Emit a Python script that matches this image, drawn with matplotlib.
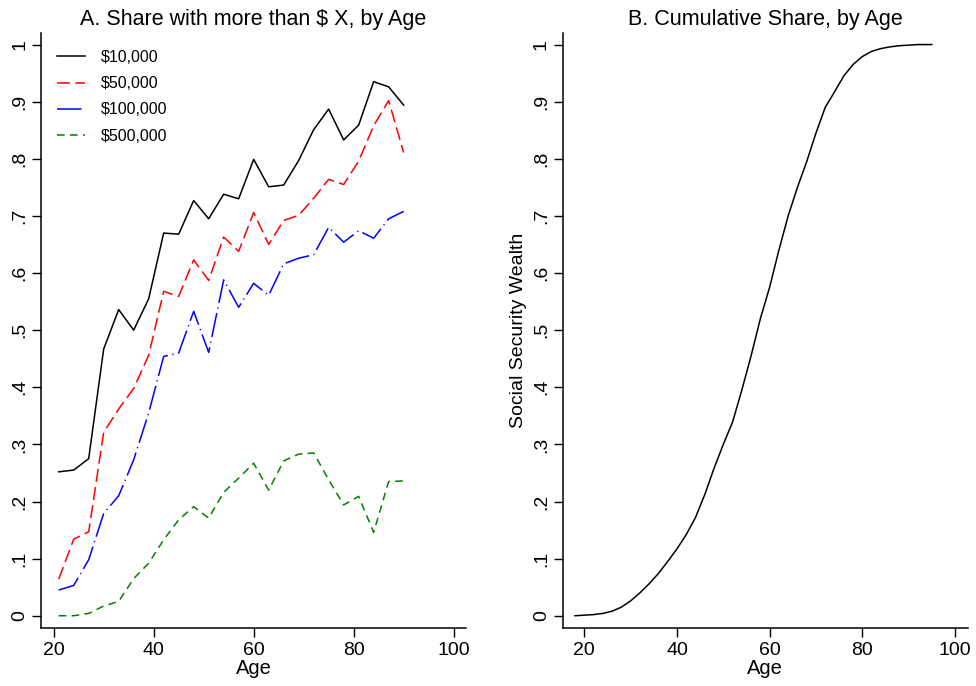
import numpy as np
import matplotlib.pyplot as plt
from matplotlib.ticker import FixedLocator, FuncFormatter

plt.rcParams['font.family'] = ['Liberation Sans', 'DejaVu Sans']

# Panel A: share of households above each wealth threshold, by age
idade = [21, 24, 27, 30, 33, 36, 39, 42, 45, 48, 51, 54,
         57, 60, 63, 66, 69, 72, 75, 78, 81, 84, 87, 90]
share_10k = [0.252, 0.255, 0.275, 0.467, 0.536, 0.500, 0.555, 0.670,
             0.668, 0.727, 0.695, 0.738, 0.730, 0.799, 0.751, 0.754,
             0.797, 0.851, 0.887, 0.833, 0.859, 0.935, 0.926, 0.894]
share_50k = [0.064, 0.134, 0.147, 0.321, 0.362, 0.398, 0.456, 0.568,
             0.559, 0.623, 0.587, 0.663, 0.638, 0.706, 0.650, 0.692,
             0.701, 0.731, 0.764, 0.755, 0.796, 0.858, 0.902, 0.811]
share_100k = [0.045, 0.053, 0.098, 0.179, 0.210, 0.273, 0.355, 0.454,
              0.460, 0.533, 0.461, 0.588, 0.540, 0.582, 0.561, 0.616,
              0.626, 0.632, 0.680, 0.654, 0.674, 0.661, 0.695, 0.708]
share_500k = [0.000, 0.000, 0.004, 0.017, 0.025, 0.065, 0.092, 0.133,
              0.168, 0.191, 0.171, 0.216, 0.241, 0.267, 0.220, 0.271,
              0.283, 0.285, 0.238, 0.194, 0.209, 0.146, 0.235, 0.236]
rotulos = ['$10,000', '$50,000', '$100,000', '$500,000']

# Panel B: cumulative share of social security wealth, by age
idade_cum = [18, 20, 22, 24, 26, 28, 30, 32, 34, 36, 38, 40, 42, 44,
             46, 48, 50, 52, 54, 56, 58, 60, 62, 64, 66, 68, 70, 72,
             74, 76, 78, 80, 82, 84, 86, 88, 90, 92, 95]
cum_share = [0.000, 0.001, 0.002, 0.004, 0.008, 0.015, 0.026, 0.040,
             0.056, 0.074, 0.095, 0.117, 0.142, 0.172, 0.212, 0.258,
             0.300, 0.339, 0.395, 0.455, 0.520, 0.575, 0.640, 0.700,
             0.750, 0.795, 0.845, 0.890, 0.917, 0.945, 0.965, 0.979,
             0.988, 0.993, 0.996, 0.998, 0.999, 1.000, 1.000]

yticks = np.arange(0, 1.01, 0.1)


def fmt_stata(v, pos):
    # Stata-style labels: 0, .1, .2, ..., 1
    if abs(v) < 1e-9:
        return '0'
    if abs(v - 1) < 1e-9:
        return '1'
    return ('%.1f' % v).lstrip('0')


def estilo_eixo(ax, xlim):
    for lado in ['top', 'right']:
        ax.spines[lado].set_visible(False)
    for lado in ['left', 'bottom']:
        ax.spines[lado].set_linewidth(1.1)
    ax.set_xlim(*xlim)
    ax.set_ylim(-0.022, 1.0205)
    ax.set_xticks([20, 40, 60, 80, 100])
    ax.yaxis.set_major_locator(FixedLocator(yticks))
    ax.yaxis.set_major_formatter(FuncFormatter(fmt_stata))
    ax.tick_params(axis='both', direction='out', length=6.5, width=1.0,
                   labelsize=14)
    ax.tick_params(axis='y', labelrotation=90, pad=3)
    for lab in ax.get_yticklabels():
        lab.set_verticalalignment('center')
    ax.set_xlabel('Age', fontsize=14.5, labelpad=0)


fig = plt.figure(figsize=(9.76, 6.86), dpi=100)
ax1 = fig.add_axes([0.0423, 0.0841, 0.4348, 0.868])
ax2 = fig.add_axes([0.5768, 0.0841, 0.4147, 0.868])

ax1.plot(idade, share_10k, color='black', lw=1.1, label=rotulos[0])
ax1.plot(idade, share_50k, color='#ff0000', lw=1.1, dashes=(8.5, 3.5),
         label=rotulos[1])
ax1.plot(idade, share_100k, color='#0000ff', lw=1.1,
         dashes=(16, 3, 0.8, 3), label=rotulos[2])
ax1.plot(idade, share_500k, color='#008000', lw=1.1, dashes=(5, 3.5),
         label=rotulos[3])
estilo_eixo(ax1, (17.52, 102.4))
ax1.set_title('A. Share with more than $ X, by Age', fontsize=15.5, pad=6)
ax1.legend(loc='upper left', bbox_to_anchor=(0.01, 0.99), frameon=False,
           fontsize=11.5, handlelength=1.8, handletextpad=0.95,
           labelspacing=0.7, borderaxespad=0.3)

ax2.plot(idade_cum, cum_share, color='black', lw=1.1)
estilo_eixo(ax2, (15.4, 102.75))
ax2.set_ylabel('Social Security Wealth', fontsize=14, labelpad=4)
ax2.set_title('B. Cumulative Share, by Age', fontsize=15.5, pad=6)

fig.savefig('out.png', dpi=100)
